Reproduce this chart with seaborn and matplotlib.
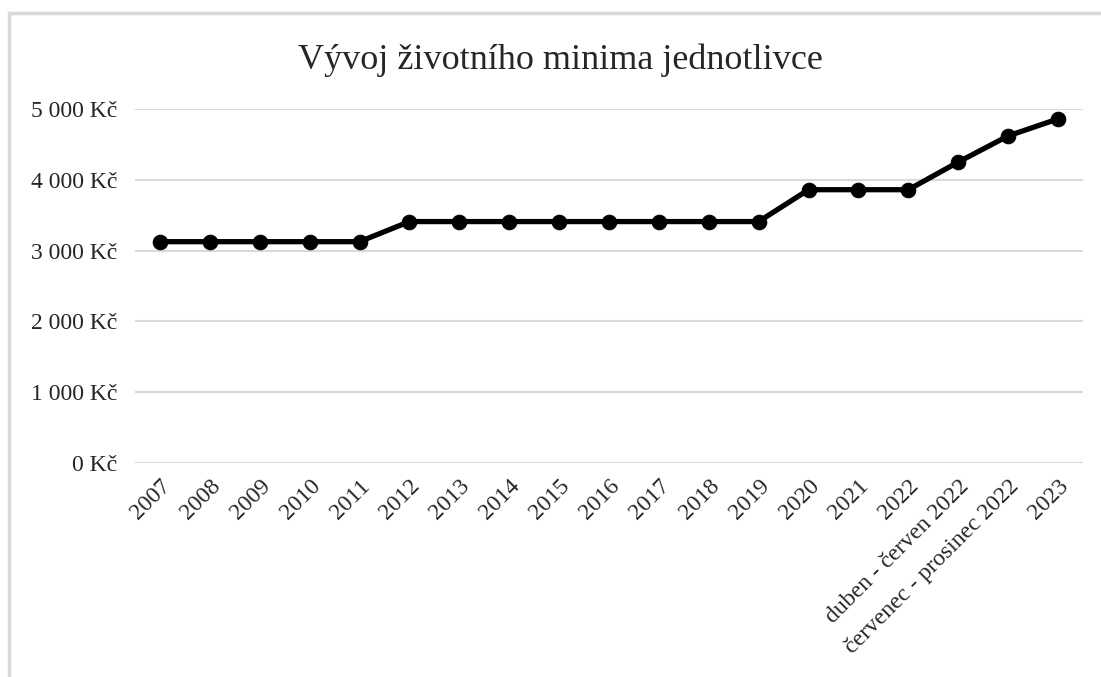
import matplotlib
matplotlib.use('Agg')
import matplotlib.pyplot as plt
import seaborn as sns
import pandas as pd
from matplotlib.patches import Rectangle
from matplotlib.ticker import FuncFormatter

# data
obdobi = ['2007', '2008', '2009', '2010', '2011', '2012', '2013', '2014', '2015',
          '2016', '2017', '2018', '2019', '2020', '2021', '2022',
          'duben - červen 2022', 'červenec - prosinec 2022', '2023']
minimum = [3126, 3126, 3126, 3126, 3126, 3410, 3410, 3410, 3410,
           3410, 3410, 3410, 3410, 3860, 3860, 3860,
           4250, 4620, 4860]
y_ticks = [0, 1000, 2000, 3000, 4000, 5000]

df = pd.DataFrame({'obdobi': obdobi, 'minimum': minimum})
df['pos'] = range(len(df))

sns.set_style('white')
plt.rcParams['font.family'] = ['Liberation Serif', 'DejaVu Serif']

fig = plt.figure(figsize=(11.01, 6.77), dpi=100)
n = len(obdobi)
# plot area: first point ~x160, last ~x1058, 0 at y463, 5000 at y109
step = (1058 - 160) / (n - 1)
left = (160 - step / 2) / 1101
right = (1058 + step / 2) / 1101
ax = fig.add_axes([left, 1 - 463 / 677, right - left, (463 - 109) / 677])

sns.lineplot(data=df, x='pos', y='minimum', ax=ax, color='black', linewidth=3.8,
             marker='o', markersize=10.5, markeredgecolor='black', zorder=3)

ax.set_xlim(-0.5, n - 0.5)
ax.set_ylim(0, 5000)
ax.set_yticks(y_ticks)
ax.yaxis.set_major_formatter(FuncFormatter(lambda v, p: f'{int(v):,} Kč'.replace(',', ' ')))
ax.set_xticks(range(n))
ax.set_xticklabels(obdobi, rotation=45, ha='right', rotation_mode='anchor')
ax.tick_params(axis='both', length=0, labelsize=17, colors='#262626')
ax.tick_params(axis='x', pad=9)
ax.tick_params(axis='y', pad=13)
ax.grid(axis='y', color='#d9d9d9', linewidth=1.5)
ax.set_axisbelow(True)
for s in ax.spines.values():
    s.set_visible(False)
ax.set_xlabel('')
ax.set_ylabel('')

fig.text(560 / 1101, 1 - 60 / 677, 'Vývoj životního minima jednotlivce',
         ha='center', va='center', fontsize=26, color='#262626')

# outer chart frame
fig.patches.append(Rectangle((9 / 1101, -0.1), 1.2, 1.1 - 13 / 677,
                             transform=fig.transFigure, fill=False,
                             edgecolor='#d9d9d9', linewidth=2.5))

fig.savefig('out.png', dpi=100)
